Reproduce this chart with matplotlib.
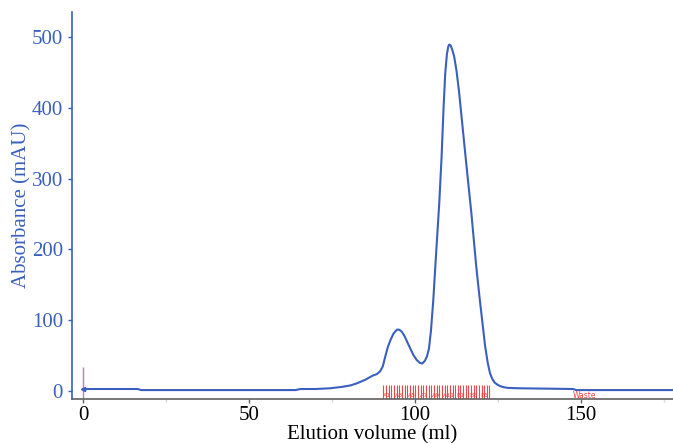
import matplotlib.pyplot as plt

# chromatogram trace
volume = [0, 2, 8, 16.5, 17.5, 30, 45, 64, 65.5, 70, 74.4, 78, 80.5, 82.5, 85,
          87.3, 88.5, 89.5, 90.3, 91.0, 91.8, 92.6, 93.5, 94.2, 94.7, 95.3,
          96.0, 96.8, 97.6, 98.5, 99.5, 100.5, 101.4, 102.2, 103, 103.6, 104.2,
          104.8, 105.5, 106.3, 107.3, 108.0, 108.6, 109.1, 109.6, 110.0, 110.3,
          110.7, 111.2, 111.8, 112.5, 113.2, 114, 115.5, 117, 118.4, 119.3,
          120.1, 121.1, 121.9, 122.6, 123.3, 124, 125, 126, 127, 128, 130,
          132, 140, 147.6, 148.5, 160, 178]
absorbance = [3, 3, 3, 3, 1.5, 1.5, 1.5, 1.5, 3, 3, 4, 6, 8, 11, 16,
              22, 24, 28, 35, 48, 62, 72, 81, 85, 87, 86.5,
              84, 78, 70, 61, 51, 44, 40, 39, 43, 49, 60,
              85, 128, 190, 265, 330, 400, 448, 475, 486, 489,
              488, 482, 472, 452, 425, 388, 318, 250, 178, 138,
              105, 64, 40, 25, 17, 12, 8.5, 6.5, 5.3, 4.6, 4.2,
              4, 3.5, 3, 1.5, 1.5, 1.5]

# fraction collector marks (ml) and labels
fraction_edges = [90.5, 91.3, 92.1, 92.9, 93.7, 94.5, 95.3, 96.1, 96.9, 97.7,
                  98.5, 99.3, 100.1, 100.9, 101.7, 102.5, 103.3, 104.1, 104.9,
                  105.7, 106.5, 107.3, 108.1, 108.9, 109.7, 110.5, 111.3, 112.1,
                  112.9, 113.7, 114.5, 115.3, 116.1, 116.9, 117.7, 118.5, 119.3,
                  120.1, 120.9, 121.7, 122.3]
fraction_labels = ["A1", "A3", "A5", "A7", "A9", "A11", "B1", "B3", "B5"]
fraction_label_pos = [91.6, 95.3, 99.0, 102.7, 106.4, 110.1, 113.8, 117.5, 121.0]
waste_pos = 151.0
injection_pos = 0

xticks = [0, 50, 100, 150]
yticks = [0, 100, 200, 300, 400, 500]

blue = "#3a5fbf"
red = "#f04848"

plt.rcParams["font.family"] = ["Liberation Serif", "DejaVu Serif"]

fig = plt.figure(figsize=(6.73, 4.43), dpi=100)
ax = fig.add_axes([0.107, 0.099, 0.893, 0.874])

ax.plot(volume, absorbance, color=blue, lw=1.5, zorder=3)
ax.plot([volume[0]], [absorbance[0]], marker="<", color=blue, ms=3, zorder=4)

# fractions
ax.vlines(fraction_edges, -11, 8.5, color=red, lw=0.8, zorder=2)
for lab, pos in zip(fraction_labels, fraction_label_pos):
    ax.text(pos, -6, lab, color=red, fontsize=4.5, ha="center", va="center",
            family="DejaVu Sans", zorder=2)
ax.text(waste_pos, -6, "Waste", color=red, fontsize=5.5, ha="center", va="center",
        family="DejaVu Sans")

# injection mark
ax.vlines([injection_pos], -10, 34, color="#c07ac8", lw=1.0, zorder=2)

ax.set_xlim(-3.3, 177.7)
ax.set_ylim(-11.3, 535)
ax.set_xticks(xticks)
ax.set_xticks([25, 75, 125, 175], minor=True)
ax.set_yticks(yticks)

for s in ["top", "right"]:
    ax.spines[s].set_visible(False)
ax.spines["left"].set_color(blue)
ax.spines["left"].set_linewidth(1.2)
ax.spines["bottom"].set_color("#606060")
ax.spines["bottom"].set_linewidth(1.2)

ax.tick_params(axis="y", colors=blue, labelsize=15, length=3, width=1)
ax.tick_params(axis="x", colors="#606060", labelcolor="black", labelsize=15,
               length=3, width=1, pad=2)
ax.tick_params(axis="x", which="minor", colors="#d8d8d8", length=2, width=1)

ax.set_xlabel("Elution volume (ml)", fontsize=15, labelpad=0)
ax.set_ylabel("Absorbance (mAU)", fontsize=15, color=blue, labelpad=0)

fig.savefig("out.png", dpi=100)
